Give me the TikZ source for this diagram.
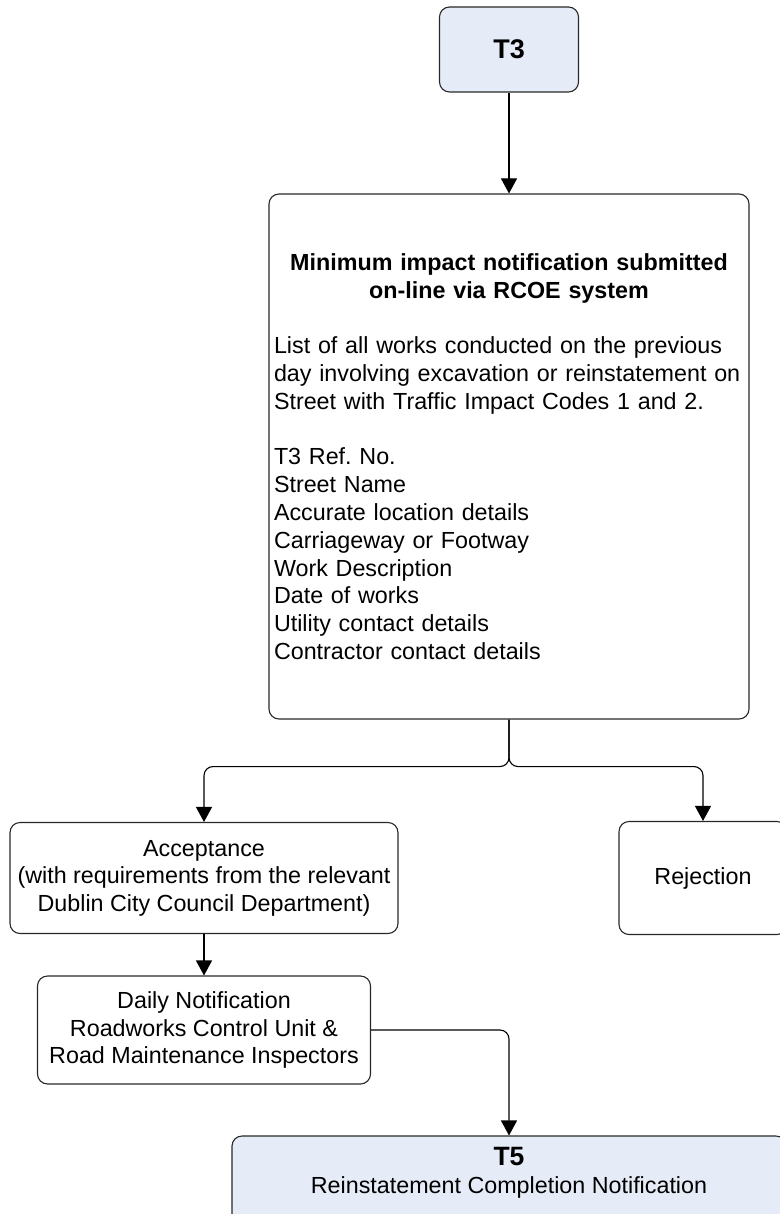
\documentclass[tikz,border=0pt]{standalone}
\usepackage{fontspec}
\setmainfont{Liberation Sans}
\usetikzlibrary{arrows.meta}
\frenchspacing
\definecolor{boxblue}{RGB}{230,236,247}
\definecolor{edgegray}{RGB}{40,40,40}
\tikzset{
  box/.style={draw=edgegray, line width=1.1pt, rounded corners=10pt, inner sep=0pt,
    align=center, font=\fontsize{23.3}{27.6}\selectfont},
  bluebox/.style={box, fill=boxblue},
  conn/.style={draw=black, line width=1.1pt, -{Triangle[width=16pt,length=15pt]}},
  bodytext/.style={inner sep=0pt, font=\fontsize{23.3}{27.8}\selectfont}
}
\begin{document}
\begin{tikzpicture}[x=1pt,y=-1pt]
\useasboundingbox (0,0) rectangle (779,1214);
% nodes
\node[bluebox, minimum width=139pt, minimum height=85pt,
  font=\fontsize{27}{30}\selectfont\bfseries] (t3) at (509,49.5) {T3};
\node[box, minimum width=480pt, minimum height=525pt, text width=470pt, align=left,
  font=\fontsize{23.3}{27.8}\selectfont] (main) at (509,456.5)
  {{\centering\bfseries Minimum impact notification submitted\\on-line via RCOE system\par}
   \vskip 27.8pt
   List of all works conducted on the previous\\
   day involving excavation or reinstatement on\\
   Street with Traffic Impact Codes 1 and 2.\par
   \vskip 27.8pt
   T3 Ref. No.\\
   Street Name\\
   Accurate location details\\
   Carriageway or Footway\\
   Work Description\\
   Date of works\\
   Utility contact details\\
   Contractor contact details};
\node[box, minimum width=388pt, minimum height=111pt] (acc) at (204,878)
  {Acceptance\\(with requirements from the relevant\\Dublin City Council Department)};
\node[box, minimum width=168pt, minimum height=113pt] (rej) at (703,878) {Rejection};
\node[box, minimum width=333pt, minimum height=108pt] (daily) at (204,1030)
  {Daily Notification\\Roadworks Control Unit \&\\Road Maintenance Inspectors};
\node[bluebox, minimum width=554pt, minimum height=110pt] (t5) at (509,1191) {};
\node[bodytext, align=center] (t5text) at (509,1173)
  {{\fontsize{26.5}{27.8}\selectfont\bfseries T5}\\Reinstatement Completion Notification};
% connectors
\draw[conn] (t3.south) -- (main.north);
\coordinate (split) at ([yshift=-47pt]main.south);
\draw[conn, rounded corners=9pt] (main.south) -- (split) -| (acc.north);
\draw[conn, rounded corners=9pt] (main.south) -- (split) -| (rej.north);
\draw[conn] (acc.south) -- (daily.north);
\draw[conn, rounded corners=9pt] (daily.east) -| (t5.north);
\end{tikzpicture}
\end{document}
